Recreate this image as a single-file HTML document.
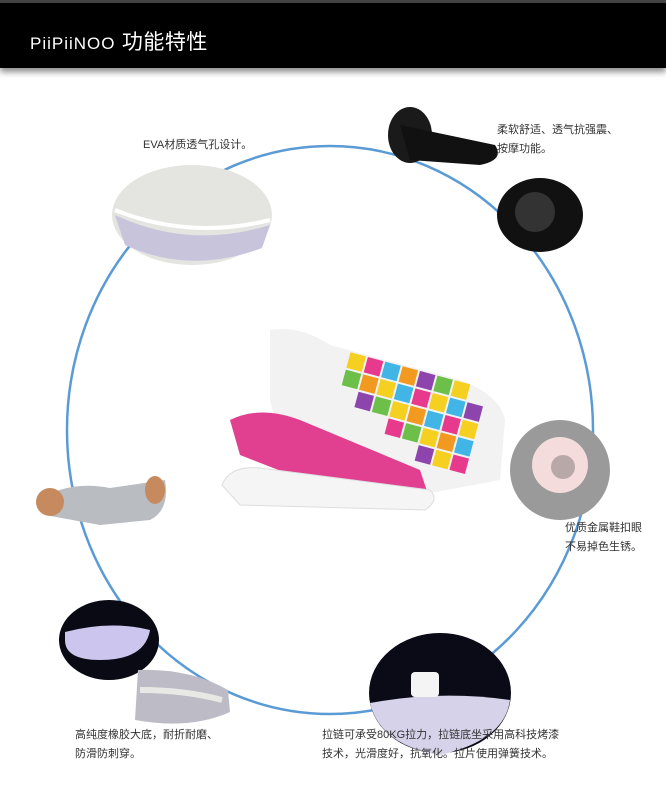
<!DOCTYPE html>
<html><head><meta charset="utf-8"><style>
html,body{margin:0;padding:0;background:#fff;width:666px;height:800px;overflow:hidden}
.t{position:absolute;font-family:"Liberation Sans","Noto Sans CJK SC",sans-serif;font-size:11px;color:#333;line-height:19px;white-space:nowrap}
</style></head><body>
<div style="position:absolute;left:0;top:0;width:666px;height:3px;background:#444"></div>
<div style="position:absolute;left:0;top:3px;width:666px;height:65px;background:#000;box-shadow:0 4px 6px rgba(0,0,0,0.45)"></div>
<div class="t" style="left:30px;top:30px;color:#fff;font-size:21px;line-height:26px;letter-spacing:0.5px"><span style="font-size:17px;letter-spacing:1px">PiiPiiNOO</span> 功能特性</div>
<svg width="666" height="800" style="position:absolute;left:0;top:0">
<ellipse cx="330" cy="430" rx="263" ry="284" fill="none" stroke="#5b9bd5" stroke-width="2.5"/>
<ellipse cx="192" cy="215" rx="80" ry="50" fill="#e4e4e0"/>
<path d="M115 215 Q190 250 270 225 L262 248 Q190 275 125 245Z" fill="#c7c4dc"/>
<path d="M115 210 Q190 240 270 220" stroke="#fff" stroke-width="4" fill="none"/>
<ellipse cx="410" cy="135" rx="22" ry="28" fill="#1a1a1a"/>
<path d="M400 125 L495 145 Q505 160 480 165 L410 160Z" fill="#111"/>
<ellipse cx="540" cy="215" rx="43" ry="37" fill="#111"/>
<circle cx="535" cy="212" r="20" fill="#333"/>
<path d="M270 330 Q300 325 330 345 L460 380 Q500 395 505 420 L500 480 L420 495 L290 480 L270 400Z" fill="#f2f2f2"/>
<g transform="rotate(15 410 420)">
<rect x="335" y="370" width="16" height="16" fill="#f5d020"/><rect x="353" y="370" width="16" height="16" fill="#e83a8c"/><rect x="371" y="370" width="16" height="16" fill="#41b6e6"/><rect x="389" y="370" width="16" height="16" fill="#f29a1f"/><rect x="407" y="370" width="16" height="16" fill="#8e44ad"/><rect x="425" y="370" width="16" height="16" fill="#6cc04a"/><rect x="443" y="370" width="16" height="16" fill="#f5d020"/>
<rect x="335" y="388" width="16" height="16" fill="#6cc04a"/><rect x="353" y="388" width="16" height="16" fill="#f29a1f"/><rect x="371" y="388" width="16" height="16" fill="#f5d020"/><rect x="389" y="388" width="16" height="16" fill="#41b6e6"/><rect x="407" y="388" width="16" height="16" fill="#e83a8c"/><rect x="425" y="388" width="16" height="16" fill="#f5d020"/><rect x="443" y="388" width="16" height="16" fill="#41b6e6"/><rect x="461" y="388" width="16" height="16" fill="#8e44ad"/>
<rect x="353" y="406" width="16" height="16" fill="#8e44ad"/><rect x="371" y="406" width="16" height="16" fill="#6cc04a"/><rect x="389" y="406" width="16" height="16" fill="#f5d020"/><rect x="407" y="406" width="16" height="16" fill="#f29a1f"/><rect x="425" y="406" width="16" height="16" fill="#41b6e6"/><rect x="443" y="406" width="16" height="16" fill="#e83a8c"/><rect x="461" y="406" width="16" height="16" fill="#f5d020"/>
<rect x="389" y="424" width="16" height="16" fill="#e83a8c"/><rect x="407" y="424" width="16" height="16" fill="#6cc04a"/><rect x="425" y="424" width="16" height="16" fill="#f5d020"/><rect x="443" y="424" width="16" height="16" fill="#f29a1f"/><rect x="461" y="424" width="16" height="16" fill="#41b6e6"/>
<rect x="425" y="442" width="16" height="16" fill="#8e44ad"/><rect x="443" y="442" width="16" height="16" fill="#f5d020"/><rect x="461" y="442" width="16" height="16" fill="#e83a8c"/>
</g>
<path d="M230 420 Q260 405 300 420 L420 470 L430 500 L330 490 L240 455Z" fill="#e0408f"/>
<path d="M222 485 Q230 465 260 468 L430 490 Q440 500 425 510 L240 505Z" fill="#f5f5f5" stroke="#ddd"/>
<circle cx="560" cy="470" r="50" fill="#9a9a9a"/>
<circle cx="560" cy="465" r="28" fill="#f4dcdc"/>
<circle cx="563" cy="467" r="12" fill="#b8a8a8"/>
<path d="M38 500 Q70 480 110 488 L165 480 Q170 510 150 520 L100 525 L45 515Z" fill="#b9bcc0"/>
<ellipse cx="50" cy="502" rx="14" ry="14" fill="#c78a5e"/>
<ellipse cx="155" cy="490" rx="10" ry="14" fill="#c78a5e"/>
<ellipse cx="109" cy="640" rx="50" ry="40" fill="#0a0a14"/>
<path d="M65 632 Q110 620 150 630 Q145 660 100 660 Q65 660 65 640Z" fill="#ccc6ee"/>
<path d="M138 670 Q190 668 228 690 L230 712 Q190 730 135 720Z" fill="#bdbcc6"/>
<path d="M140 690 Q185 690 222 700" stroke="#e8e8e4" stroke-width="6" fill="none"/>
<ellipse cx="440" cy="693" rx="71" ry="60" fill="#0b0b18"/>
<path d="M370 703 Q440 690 510 700 Q505 740 440 755 Q380 745 370 703Z" fill="#d6d2ea"/>
<rect x="411" y="672" width="28" height="25" rx="4" fill="#f4f4f4"/>
</svg>
<div class="t" style="left:143px;top:136px">EVA材质透气孔设计。</div>
<div class="t" style="left:497px;top:121px">柔软舒适、透气抗强震、<br>按摩功能。</div>
<div class="t" style="left:565px;top:519px">优质金属鞋扣眼<br>不易掉色生锈。</div>
<div class="t" style="left:75px;top:726px">高纯度橡胶大底，耐折耐磨、<br>防滑防刺穿。</div>
<div class="t" style="left:322px;top:726px">拉链可承受80KG拉力，拉链底坐采用高科技烤漆<br>技术，光滑度好，抗氧化。拉片使用弹簧技术。</div>
</body></html>
